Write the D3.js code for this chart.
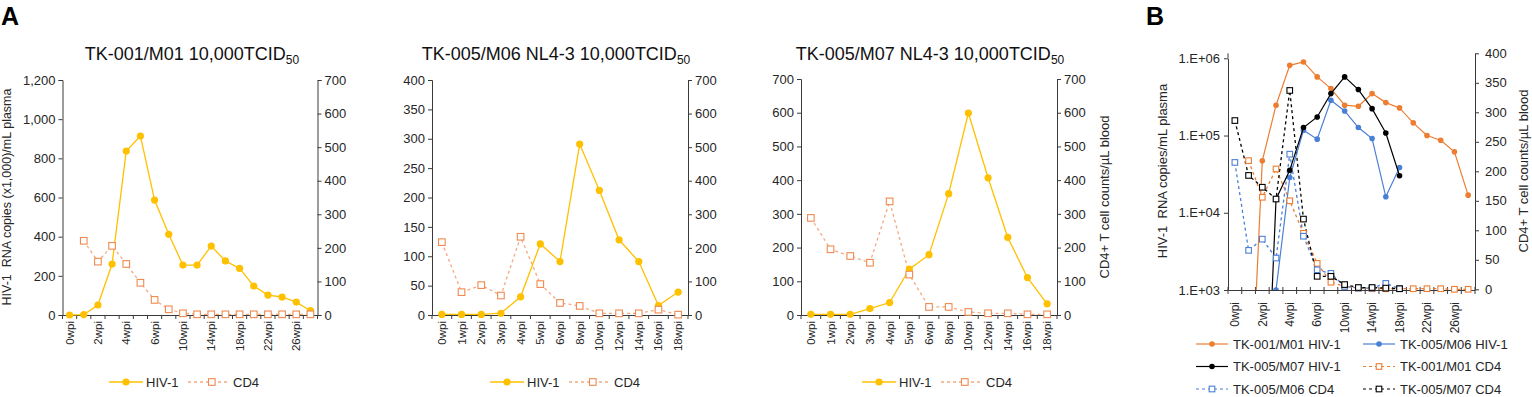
<!DOCTYPE html>
<html>
<head>
<meta charset="utf-8">
<script src="https://cdn.jsdelivr.net/npm/d3@7"></script>
<style>
  body { margin: 0; background: #fff; }
  text { font-family: "Liberation Sans", Arial, sans-serif; fill: #262626; }
</style>
</head>
<body>
<script>
// week categories
var weeksLong = ["0wpi", "1wpi", "2wpi", "3wpi", "4wpi", "5wpi", "6wpi", "8wpi", "10wpi", "12wpi",
  "14wpi", "16wpi", "18wpi", "20wpi", "22wpi", "24wpi", "26wpi", "28wpi"];
var weeksShort = ["0wpi", "1wpi", "2wpi", "3wpi", "4wpi", "5wpi", "6wpi", "8wpi", "10wpi", "12wpi",
  "14wpi", "16wpi", "18wpi"];

// panel A (HIV-1 x1,000 copies/mL, CD4 cells/uL)
var m01Hiv = [0, 2, 51, 260, 837, 914, 587, 412, 255, 255, 352, 276, 238, 148, 102, 92, 66, 22];
var m01Cd4 = [null, 221, 159, 206, 152, 96, 45, 17, 5, 2, 2, 2, 2, 2, 2, 2, 2, 2];
var m06Hiv = [1, 1, 1, 3, 31, 121, 91, 291, 212, 128, 91, 16, 39];
var m06Cd4 = [217, 68, 89, 58, 233, 92, 36, 27, 5, 5, 5, 16, 1];
var m07Hiv = [2, 2, 2, 19, 37, 136, 179, 360, 599, 407, 230, 111, 33];
var m07Cd4 = [288, 195, 175, 155, 337, 120, 24, 24, 9, 5, 5, 2, 2];

// panel B (HIV-1 copies/mL, log axis; CD4 cells/uL)
var bM01Hiv = [5, 7, 47000, 247000, 811000, 897000, 574000, 405000, 247000, 239000, 349000, 267000,
  228000, 146000, 100000, 87000, 61500, 16900];
var bM06Hiv = [1, 1, 1, 1000, 28600, 117000, 89800, 286000, 208000, 127000, 91500, 16100, 38600];
var bM07Hiv = [1, 1, 1, 15000, 35600, 127000, 174000, 349000, 574000, 394000, 223000, 108000, 30100];
var bM01Cd4 = [null, 218, 156, 204, 150, 95, 44, 12, 5, 2, 1, 1, 1, 1, 1, 1, 0, 0];
var bM06Cd4 = [215, 66, 85, 53, 229, 90, 33, 27, 5, 2, 2, 10, 1];
var bM07Cd4 = [286, 193, 173, 153, 337, 119, 22, 22, 8, 3, 3, 2, 1];

var yellow = "#FFC000", cd4Orange = "#F08A50", cd4Dash = "#F4AA80";
var bOrange = "#ED7D31", bBlue = "#4A7FD6", bBlack = "#000000";
var axisColor = "#3a3a3a";

var svg = d3.select("body").append("svg")
  .attr("width", 1532)
  .attr("height", 397);

function styleAxis(g) {
  g.select(".domain").attr("stroke", axisColor);
  g.selectAll(".tick line").attr("stroke", axisColor);
  g.selectAll("text").style("font-family", "Liberation Sans, Arial, sans-serif").attr("fill", "#262626");
}

function addTitle(cx, y, main) {
  var t = svg.append("text")
    .attr("x", cx).attr("y", y)
    .style("text-anchor", "middle")
    .style("font-size", "18px")
    .style("fill", "#111");
  t.append("tspan").text(main);
  t.append("tspan").attr("dy", 4).style("font-size", "12px").text("50");
}

function drawA(o) {
  var x = d3.scaleBand().domain(o.cats).range([o.left, o.right]);
  var yL = d3.scaleLinear().domain([0, o.maxL]).range([o.bottom, o.top]);
  var yR = d3.scaleLinear().domain([0, 700]).range([o.bottom, o.top]);
  var cx = function (i) { return x(o.cats[i]) + x.bandwidth() / 2; };

  // left axis
  svg.append("g")
    .attr("transform", "translate(" + o.left + ",0)")
    .call(d3.axisLeft(yL).ticks(o.maxL / o.stepL).tickSizeOuter(0).tickSize(4).tickPadding(3)
      .tickFormat(d3.format(",")))
    .call(styleAxis)
    .selectAll("text").style("font-size", "13px");

  // right axis
  svg.append("g")
    .attr("transform", "translate(" + o.right + ",0)")
    .call(d3.axisRight(yR).ticks(7).tickSizeOuter(0).tickSize(4).tickPadding(3))
    .call(styleAxis)
    .selectAll("text").style("font-size", "13px");

  // bottom axis, labels centered, ticks on category boundaries
  var xg = svg.append("g")
    .attr("transform", "translate(0," + o.bottom + ")")
    .call(d3.axisBottom(x).tickValues(o.cats.filter(function (d, i) { return i % o.every === 0; }))
      .tickSize(0).tickSizeOuter(0))
    .call(styleAxis);
  xg.selectAll(".tick text")
    .attr("transform", "rotate(-90)")
    .attr("x", -6).attr("y", 0).attr("dy", "0.35em")
    .style("text-anchor", "end")
    .style("font-size", "11.5px");
  xg.selectAll(".bound").data(o.cats.concat(["end"])).enter().append("line")
    .attr("x1", function (d, i) { return i < o.cats.length ? x(d) : x.range()[1]; })
    .attr("x2", function (d, i) { return i < o.cats.length ? x(d) : x.range()[1]; })
    .attr("y1", 0).attr("y2", 4)
    .attr("stroke", axisColor);

  var lineL = d3.line().defined(function (d) { return d != null; })
    .x(function (d, i) { return cx(i); }).y(function (d) { return yL(d); });
  var lineR = d3.line().defined(function (d) { return d != null; })
    .x(function (d, i) { return cx(i); }).y(function (d) { return yR(d); });

  svg.append("path").datum(o.cd4).attr("d", lineR)
    .attr("fill", "none").attr("stroke", cd4Dash).attr("stroke-width", 1.3).attr("stroke-dasharray", "3,3");
  svg.append("path").datum(o.hiv).attr("d", lineL)
    .attr("fill", "none").attr("stroke", yellow).attr("stroke-width", 1.3);

  svg.append("g").selectAll("circle").data(o.hiv).enter().append("circle")
    .attr("cx", function (d, i) { return cx(i); })
    .attr("cy", function (d) { return yL(d); })
    .attr("r", 3.6).attr("fill", yellow);

  svg.append("g").selectAll("rect").data(o.cd4.map(function (d, i) { return [i, d]; })
    .filter(function (p) { return p[1] != null; })).enter().append("rect")
    .attr("x", function (p) { return cx(p[0]) - 3.3; })
    .attr("y", function (p) { return yR(p[1]) - 3.3; })
    .attr("width", 6.6).attr("height", 6.6)
    .attr("fill", "#fff").attr("stroke", cd4Orange).attr("stroke-width", 1.1);

  addTitle(o.titleX, 60, o.title);

  // legend
  var lg = svg.append("g").attr("transform", "translate(" + o.legX + ",382)");
  lg.append("line").attr("x1", 0).attr("x2", 34).attr("stroke", yellow).attr("stroke-width", 1.3);
  lg.append("circle").attr("cx", 17).attr("r", 3.6).attr("fill", yellow);
  lg.append("text").attr("x", 37).attr("dy", "0.35em").style("font-size", "13px").text("HIV-1");
  lg.append("line").attr("x1", 79).attr("x2", 118).attr("stroke", cd4Dash).attr("stroke-width", 1.3)
    .attr("stroke-dasharray", "3,3");
  lg.append("rect").attr("x", 99.5).attr("y", -3.3).attr("width", 6.6).attr("height", 6.6)
    .attr("fill", "#fff").attr("stroke", cd4Orange).attr("stroke-width", 1.1);
  lg.append("text").attr("x", 124).attr("dy", "0.35em").style("font-size", "13px").text("CD4");
}

// panel letters
svg.append("text").attr("x", 1).attr("y", 25).style("font-size", "25px").style("font-weight", "bold")
  .style("fill", "#000").text("A");
svg.append("text").attr("x", 1146).attr("y", 25).style("font-size", "25px").style("font-weight", "bold")
  .style("fill", "#000").text("B");

drawA({ cats: weeksLong, hiv: m01Hiv, cd4: m01Cd4, left: 62.5, right: 317.5, top: 80, bottom: 315,
  maxL: 1200, stepL: 200, every: 2, title: "TK-001/M01 10,000TCID", titleX: 192, legX: 109 });
drawA({ cats: weeksShort, hiv: m06Hiv, cd4: m06Cd4, left: 432, right: 688, top: 80, bottom: 315,
  maxL: 400, stepL: 50, every: 1, title: "TK-005/M06 NL4-3 10,000TCID", titleX: 556, legX: 490 });
drawA({ cats: weeksShort, hiv: m07Hiv, cd4: m07Cd4, left: 801, right: 1057, top: 79, bottom: 315,
  maxL: 700, stepL: 100, every: 1, title: "TK-005/M07 NL4-3 10,000TCID", titleX: 930, legX: 862 });

// y-axis titles
svg.append("text").attr("transform", "translate(11,197) rotate(-90)")
  .style("text-anchor", "middle").style("font-size", "12.5px").style("white-space", "pre")
  .text("HIV-1  RNA copies (x1,000)/mL plasma");
svg.append("text").attr("transform", "translate(1109,197) rotate(-90)")
  .style("text-anchor", "middle").style("font-size", "13px")
  .text("CD4+ T cell counts/\u00b5L blood");

// ---------- panel B ----------
var bL = 1228, bR = 1475, bTop = 53.3, bBot = 290;
var bx = d3.scaleBand().domain(weeksLong).range([bL, bR]);
var by = d3.scaleLog().domain([1e3, 1e6]).range([bBot, 58.3]);
var byR = d3.scaleLinear().domain([0, 400]).range([289.3, bTop]);
var bcx = function (i) { return bx(weeksLong[i]) + bx.bandwidth() / 2; };

svg.append("defs").append("clipPath").attr("id", "bclip")
  .append("rect").attr("x", bL).attr("y", bTop).attr("width", bR - bL).attr("height", bBot - bTop);

var bLeft = svg.append("g").attr("transform", "translate(" + bL + ",0)")
  .call(d3.axisLeft(by).tickValues([1e3, 1e4, 1e5, 1e6]).tickSize(4).tickSizeOuter(0).tickPadding(4)
    .tickFormat(function (d) { return "1.E+0" + Math.round(Math.log10(d)); }))
  .call(styleAxis);
bLeft.selectAll("text").style("font-size", "13px");
bLeft.append("line").attr("y1", bTop).attr("y2", by.range()[1]).attr("stroke", axisColor);

svg.append("g").attr("transform", "translate(" + bR + ",0)")
  .call(d3.axisRight(byR).ticks(8).tickSize(4).tickSizeOuter(0).tickPadding(6))
  .call(styleAxis)
  .selectAll("text").style("font-size", "13px");

var bxg = svg.append("g").attr("transform", "translate(0," + bBot + ")")
  .call(d3.axisBottom(bx).tickValues(weeksLong.filter(function (d, i) { return i % 2 === 0; }))
    .tickSize(0).tickSizeOuter(0))
  .call(styleAxis);
bxg.selectAll(".tick text")
  .attr("transform", "rotate(-90)")
  .attr("x", -12).attr("y", 0).attr("dy", "0.35em")
  .style("text-anchor", "end")
  .style("font-size", "12px");
bxg.selectAll(".bound").data(weeksLong.concat(["end"])).enter().append("line")
  .attr("x1", function (d, i) { return i < weeksLong.length ? bx(d) : bR; })
  .attr("x2", function (d, i) { return i < weeksLong.length ? bx(d) : bR; })
  .attr("y1", -3).attr("y2", 4)
  .attr("stroke", axisColor);

var plot = svg.append("g").attr("clip-path", "url(#bclip)");

function bSeries(values, color, isHiv) {
  var yS = isHiv ? by : byR;
  var ln = d3.line().defined(function (d) { return d != null; })
    .x(function (d, i) { return bcx(i); }).y(function (d) { return yS(d); });
  plot.append("path").datum(values).attr("d", ln)
    .attr("fill", "none").attr("stroke", color).attr("stroke-width", isHiv ? 1.2 : 1.3)
    .attr("stroke-dasharray", isHiv ? null : "3,3");
  var pts = values.map(function (d, i) { return [i, d]; })
    .filter(function (p) { return p[1] != null && (!isHiv || p[1] >= 1e3); });
  if (isHiv) {
    plot.append("g").selectAll("circle").data(pts).enter().append("circle")
      .attr("cx", function (p) { return bcx(p[0]); })
      .attr("cy", function (p) { return yS(p[1]); })
      .attr("r", 2.8).attr("fill", color);
  } else {
    svg.append("g").selectAll("rect").data(pts).enter().append("rect")
      .attr("x", function (p) { return bcx(p[0]) - 2.8; })
      .attr("y", function (p) { return yS(p[1]) - 2.8; })
      .attr("width", 5.6).attr("height", 5.6)
      .attr("fill", "#fff").attr("stroke", color).attr("stroke-width", 1.1);
  }
}

bSeries(bM01Cd4, bOrange, false);
bSeries(bM06Cd4, bBlue, false);
bSeries(bM07Cd4, bBlack, false);
bSeries(bM01Hiv, bOrange, true);
bSeries(bM06Hiv, bBlue, true);
bSeries(bM07Hiv, bBlack, true);

svg.append("text").attr("transform", "translate(1167,171) rotate(-90)")
  .style("text-anchor", "middle").style("font-size", "13px").style("white-space", "pre")
  .text("HIV-1  RNA copies/mL plasma");
svg.append("text").attr("transform", "translate(1528,171) rotate(-90)")
  .style("text-anchor", "middle").style("font-size", "13px")
  .text("CD4+ T cell counts/\u00b5L blood");

// panel B legend
var legendNames = ["TK-001/M01 HIV-1", "TK-005/M06 HIV-1", "TK-005/M07 HIV-1",
  "TK-001/M01 CD4", "TK-005/M06 CD4", "TK-005/M07 CD4"];
var legendColors = [bOrange, bBlue, bBlack, bOrange, bBlue, bBlack];
var legendHiv = [true, true, true, false, false, false];

legendNames.forEach(function (name, i) {
  var lx = i % 2 === 0 ? 1196 : 1363;
  var ly = 344 + Math.floor(i / 2) * 22.5;
  var g = svg.append("g").attr("transform", "translate(" + lx + "," + ly + ")");
  g.append("line").attr("x1", 0).attr("x2", 32).attr("stroke", legendColors[i])
    .attr("stroke-width", 1.2).attr("stroke-dasharray", legendHiv[i] ? null : "3,3");
  if (legendHiv[i]) {
    g.append("circle").attr("cx", 16).attr("r", 2.8).attr("fill", legendColors[i]);
  } else {
    g.append("rect").attr("x", 13.2).attr("y", -2.8).attr("width", 5.6).attr("height", 5.6)
      .attr("fill", "#fff").attr("stroke", legendColors[i]).attr("stroke-width", 1.1);
  }
  g.append("text").attr("x", 37).attr("dy", "0.35em").style("font-size", "13px").text(name);
});
</script>
</body>
</html>
